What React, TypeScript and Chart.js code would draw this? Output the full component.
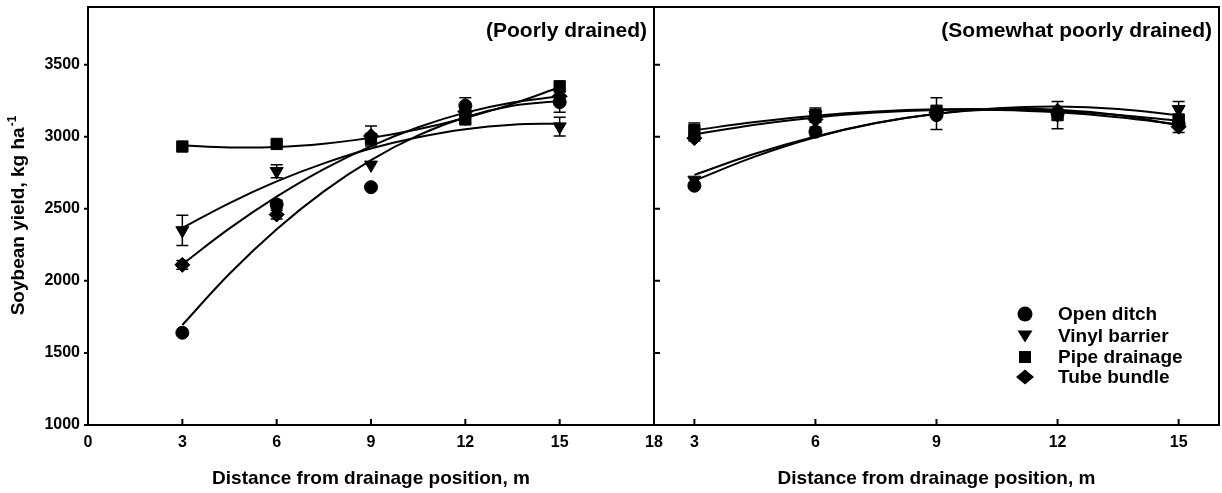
import React, { useEffect, useRef } from "react";
import { Chart, registerables } from "chart.js";

Chart.register(...registerables);

// ---------- data ----------
const distances = [3, 6, 9, 12, 15];
const fitDistances = [3, 4.5, 6, 7.5, 9, 10.5, 12, 13.5, 15];
const seriesNames = ["Open ditch", "Vinyl barrier", "Pipe drainage", "Tube bundle"];
const xTicksPoorly = [0, 3, 6, 9, 12, 15, 18];
const xTicksSomewhat = [3, 6, 9, 12, 15];
const yTicks = [1000, 1500, 2000, 2500, 3000, 3500];

// (Poorly drained) measured means
const pdOpenDitch = [1640, 2530, 2650, 3215, 3240];
const pdVinyl = [2350, 2760, 2805, 3130, 3070];
const pdPipe = [2932, 2950, 2985, 3120, 3350];
const pdTube = [2111, 2460, 3005, 3175, 3280];
// error bars
const pdOpenDitchErr = [0, 30, 0, 55, 70];
const pdVinylErr = [105, 45, 0, 0, 65];
const pdPipeErr = [0, 0, 0, 0, 0];
const pdTubeErr = [30, 30, 70, 0, 0];
// fitted curves (read at fitDistances)
const pdOpenDitchFit = [1694, 2049, 2358, 2621, 2838, 3009, 3135, 3215, 3248];
const pdVinylFit = [2367, 2540, 2690, 2815, 2918, 2996, 3052, 3083, 3091];
const pdPipeFit = [2941, 2926, 2929, 2952, 2992, 3052, 3130, 3228, 3343];
const pdTubeFit = [2115, 2364, 2584, 2775, 2935, 3066, 3167, 3238, 3280];

// (Somewhat poorly drained) measured means
const spdOpenDitch = [2660, 3035, 3150, 3160, 3090];
const spdVinyl = [2700, 3150, 3160, 3150, 3190];
const spdPipe = [3045, 3150, 3180, 3150, 3120];
const spdTube = [2990, 3120, 3170, 3180, 3070];
// error bars
const spdOpenDitchErr = [20, 30, 0, 0, 30];
const spdVinylErr = [0, 0, 110, 0, 55];
const spdPipeErr = [50, 50, 0, 95, 0];
const spdTubeErr = [20, 0, 0, 0, 40];
// fitted curves
const spdOpenDitchFit = [2695, 2862, 2996, 3095, 3160, 3191, 3188, 3151, 3080];
const spdVinylFit = [2735, 2882, 3002, 3095, 3160, 3198, 3209, 3193, 3150];
const spdPipeFit = [3045, 3102, 3146, 3175, 3190, 3191, 3178, 3151, 3110];
const spdTubeFit = [3015, 3083, 3134, 3168, 3185, 3185, 3169, 3135, 3085];

// ---------- styles ----------
const FONT = '"Liberation Sans", Arial, Helvetica, sans-serif';
const markerStyles = [
  { style: "circle", radius: 6.5, rotation: 0 },
  { style: "triangle", radius: 7.5, rotation: 180 },
  { style: "rect", radius: 8, rotation: 0 },
  { style: "rectRot", radius: 7.5, rotation: 0 },
];

type Panel = {
  title: string;
  values: number[][];
  errors: number[][];
  fits: number[][];
  xMin: number;
  xMax: number;
  xTicks: number[];
  yAxisWidth: number;
  showYLabels: boolean;
  yTicksOutward: boolean;
  padRight: number;
  showLegend: boolean;
  showYTitle: boolean;
};

function drawLegendMarker(ctx: CanvasRenderingContext2D, idx: number, x: number, y: number) {
  ctx.beginPath();
  if (idx === 0) {
    ctx.arc(x, y, 7.5, 0, Math.PI * 2);
  } else if (idx === 1) {
    ctx.moveTo(x - 7.5, y - 5.5);
    ctx.lineTo(x + 7.5, y - 5.5);
    ctx.lineTo(x, y + 6.5);
    ctx.closePath();
  } else if (idx === 2) {
    ctx.rect(x - 6, y - 6, 12, 12);
  } else {
    ctx.moveTo(x - 9, y);
    ctx.lineTo(x, y - 7.5);
    ctx.lineTo(x + 9, y);
    ctx.lineTo(x, y + 7.5);
    ctx.closePath();
  }
  ctx.fill();
}

function makeDecor(p: Panel) {
  return {
    id: "decor",
    beforeDatasetsDraw(chart: any) {
      const { ctx, scales } = chart;
      const xs = scales.x;
      const ys = scales.y;
      ctx.save();
      ctx.strokeStyle = "#000";
      ctx.lineWidth = 1.5;
      p.values.forEach((vals, si) =>
        vals.forEach((v, i) => {
          const e = p.errors[si][i];
          if (!e) return;
          const px = xs.getPixelForValue(distances[i]);
          const y1 = ys.getPixelForValue(v + e);
          const y2 = ys.getPixelForValue(v - e);
          ctx.beginPath();
          ctx.moveTo(px, y1);
          ctx.lineTo(px, y2);
          ctx.moveTo(px - 6, y1);
          ctx.lineTo(px + 6, y1);
          ctx.moveTo(px - 6, y2);
          ctx.lineTo(px + 6, y2);
          ctx.stroke();
        })
      );
      ctx.restore();
    },
    afterDraw(chart: any) {
      const { ctx, chartArea: a, scales } = chart;
      const xs = scales.x;
      const ys = scales.y;
      ctx.save();
      ctx.strokeStyle = "#000";
      ctx.fillStyle = "#000";
      ctx.lineWidth = 2;
      ctx.strokeRect(a.left, a.top, a.right - a.left, a.bottom - a.top);
      // x ticks (inward)
      ctx.beginPath();
      p.xTicks.forEach((v) => {
        const px = xs.getPixelForValue(v);
        ctx.moveTo(px, a.bottom);
        ctx.lineTo(px, a.bottom - 6);
      });
      // y ticks
      yTicks.forEach((v) => {
        const py = ys.getPixelForValue(v);
        if (p.yTicksOutward) {
          ctx.moveTo(a.left - 4, py);
          ctx.lineTo(a.left, py);
        } else {
          ctx.moveTo(a.left, py);
          ctx.lineTo(a.left + 6, py);
        }
      });
      ctx.stroke();

      // panel title
      ctx.font = `bold 21px ${FONT}`;
      ctx.textAlign = "right";
      ctx.textBaseline = "alphabetic";
      ctx.fillText(p.title, a.right - 7, 37);

      // x-axis title
      ctx.font = `bold 19px ${FONT}`;
      ctx.textAlign = "center";
      ctx.textBaseline = "middle";
      ctx.fillText("Distance from drainage position, m", (a.left + a.right) / 2, 479);

      // y-axis title
      if (p.showYTitle) {
        ctx.save();
        ctx.translate(19, (a.top + a.bottom) / 2);
        ctx.rotate(-Math.PI / 2);
        const main = "Soybean yield, kg ha";
        const sup = "-1";
        ctx.font = `bold 19px ${FONT}`;
        const w1 = ctx.measureText(main).width;
        ctx.font = `bold 12px ${FONT}`;
        const w2 = ctx.measureText(sup).width;
        const start = -(w1 + w2) / 2;
        ctx.textAlign = "left";
        ctx.textBaseline = "middle";
        ctx.font = `bold 19px ${FONT}`;
        ctx.fillText(main, start, 0);
        ctx.font = `bold 12px ${FONT}`;
        ctx.fillText(sup, start + w1 + 1, -6);
        ctx.restore();
      }

      // legend
      if (p.showLegend) {
        const rows = [314, 336, 357, 377];
        const lx = a.left + 371;
        const tx = a.left + 404;
        ctx.font = `bold 19px ${FONT}`;
        ctx.textAlign = "left";
        ctx.textBaseline = "middle";
        seriesNames.forEach((name, i) => {
          drawLegendMarker(ctx, i, lx, rows[i]);
          ctx.fillText(name, tx, rows[i] + 1);
        });
      }
      ctx.restore();
    },
  };
}

function zeroPad(s: any) {
  s.paddingLeft = 0;
  s.paddingRight = 0;
  s.paddingTop = 0;
  s.paddingBottom = 0;
}

function buildConfig(p: Panel): any {
  const markerDatasets = p.values.map((vals, si) => ({
    type: "line",
    label: seriesNames[si],
    data: vals.map((v, i) => ({ x: distances[i], y: v })),
    showLine: false,
    pointStyle: markerStyles[si].style,
    pointRadius: markerStyles[si].radius,
    pointRotation: markerStyles[si].rotation,
    pointBackgroundColor: "#000",
    pointBorderColor: "#000",
    pointBorderWidth: 1,
    pointHoverRadius: markerStyles[si].radius,
  }));
  const fitDatasets = p.fits.map((vals, si) => ({
    type: "line",
    label: seriesNames[si] + " fit",
    data: vals.map((v, i) => ({ x: fitDistances[i], y: v })),
    borderColor: "#000",
    borderWidth: 2,
    pointRadius: 0,
    pointHoverRadius: 0,
    tension: 0.4,
    fill: false,
  }));
  return {
    type: "line",
    data: { datasets: [...fitDatasets, ...markerDatasets] },
    options: {
      animation: false,
      responsive: false,
      devicePixelRatio: 1,
      events: [],
      layout: { autoPadding: false, padding: { left: 0, top: 7, right: p.padRight, bottom: 0 } },
      plugins: { legend: { display: false }, tooltip: { enabled: false } },
      scales: {
        x: {
          type: "linear",
          min: p.xMin,
          max: p.xMax,
          afterBuildTicks: (s: any) => {
            s.ticks = p.xTicks.map((v) => ({ value: v }));
          },
          afterFit: (s: any) => {
            s.height = 68;
            zeroPad(s);
          },
          grid: { display: false, drawTicks: false },
          border: { display: false },
          ticks: {
            color: "#000",
            font: { family: FONT, size: 16, weight: "bold" },
            padding: 8,
            maxRotation: 0,
            autoSkip: false,
            callback: (v: any) => String(v),
          },
        },
        y: {
          type: "linear",
          min: 1000,
          max: 3900,
          afterBuildTicks: (s: any) => {
            s.ticks = yTicks.map((v) => ({ value: v }));
          },
          afterFit: (s: any) => {
            s.width = p.yAxisWidth;
            zeroPad(s);
          },
          grid: { display: false, drawTicks: false },
          border: { display: false },
          ticks: {
            display: p.showYLabels,
            color: "#000",
            font: { family: FONT, size: 16, weight: "bold" },
            padding: 8,
            autoSkip: false,
            callback: (v: any) => String(v),
          },
        },
      },
    },
    plugins: [makeDecor(p)],
  };
}

const poorlyPanel: Panel = {
  title: "(Poorly drained)",
  values: [pdOpenDitch, pdVinyl, pdPipe, pdTube],
  errors: [pdOpenDitchErr, pdVinylErr, pdPipeErr, pdTubeErr],
  fits: [pdOpenDitchFit, pdVinylFit, pdPipeFit, pdTubeFit],
  xMin: 0,
  xMax: 18,
  xTicks: xTicksPoorly,
  yAxisWidth: 88,
  showYLabels: true,
  yTicksOutward: true,
  padRight: 16,
  showLegend: false,
  showYTitle: true,
};

const somewhatPanel: Panel = {
  title: "(Somewhat poorly drained)",
  values: [spdOpenDitch, spdVinyl, spdPipe, spdTube],
  errors: [spdOpenDitchErr, spdVinylErr, spdPipeErr, spdTubeErr],
  fits: [spdOpenDitchFit, spdVinylFit, spdPipeFit, spdTubeFit],
  xMin: 2,
  xMax: 16,
  xTicks: xTicksSomewhat,
  yAxisWidth: 4,
  showYLabels: false,
  yTicksOutward: false,
  padRight: 3,
  showLegend: true,
  showYTitle: false,
};

export default function App() {
  const leftRef = useRef<HTMLCanvasElement>(null);
  const rightRef = useRef<HTMLCanvasElement>(null);

  useEffect(() => {
    const c1 = new Chart(leftRef.current as HTMLCanvasElement, buildConfig(poorlyPanel));
    const c2 = new Chart(rightRef.current as HTMLCanvasElement, buildConfig(somewhatPanel));
    return () => {
      c1.destroy();
      c2.destroy();
    };
  }, []);

  return (
    <div style={{ position: "absolute", left: 0, top: 0, width: 1222, height: 493, background: "#fff" }}>
      <canvas
        ref={leftRef}
        width={670}
        height={493}
        style={{ position: "absolute", left: 0, top: 0, width: 670, height: 493 }}
      />
      <canvas
        ref={rightRef}
        width={572}
        height={493}
        style={{ position: "absolute", left: 650, top: 0, width: 572, height: 493 }}
      />
    </div>
  );
}
